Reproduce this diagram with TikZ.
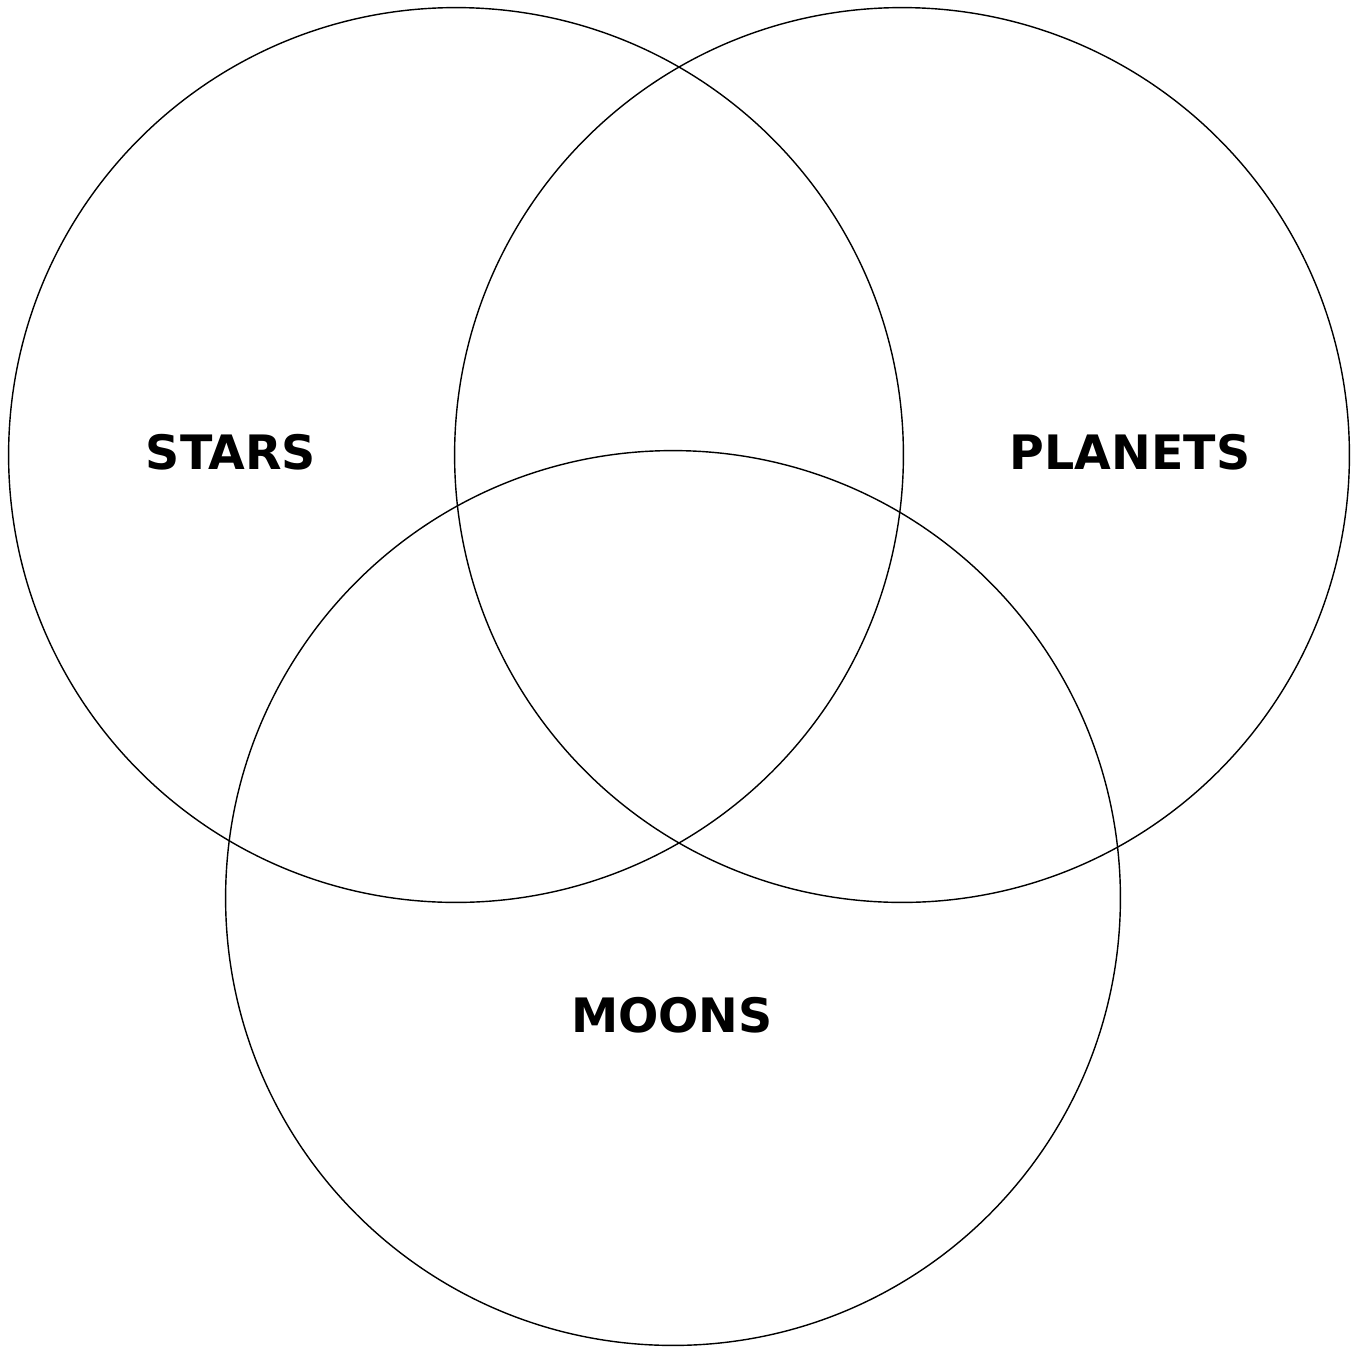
\documentclass[tikz,border=0pt]{standalone}
\usepackage{fontspec}
\newfontfamily\vennfont{DejaVu Sans}
\usepackage{tikz}
\usetikzlibrary{positioning}

\begin{document}
\begin{tikzpicture}[
    x=0.02cm, y=-0.02cm,
    ring/.style={draw, circle, line width=0.8pt, minimum size=17.9cm, inner sep=0pt},
    setname/.style={font=\vennfont\bfseries\fontsize{27}{30}\selectfont},
]
    \useasboundingbox (0,0) rectangle (1358,1349);

    % Three overlapping circles
    \node[ring] (starsring) at (456,455) {};
    \node[ring] (planetsring) at (902,455) {};
    \node[ring] (moonsring) at (673,898) {};

    % Set names
    \node[setname] (stars) at (231,452) {STARS};
    \node[setname] (planets) at (1130,452) {PLANETS};
    \node[setname] (moons) at (672,1015) {MOONS};
\end{tikzpicture}
\end{document}
